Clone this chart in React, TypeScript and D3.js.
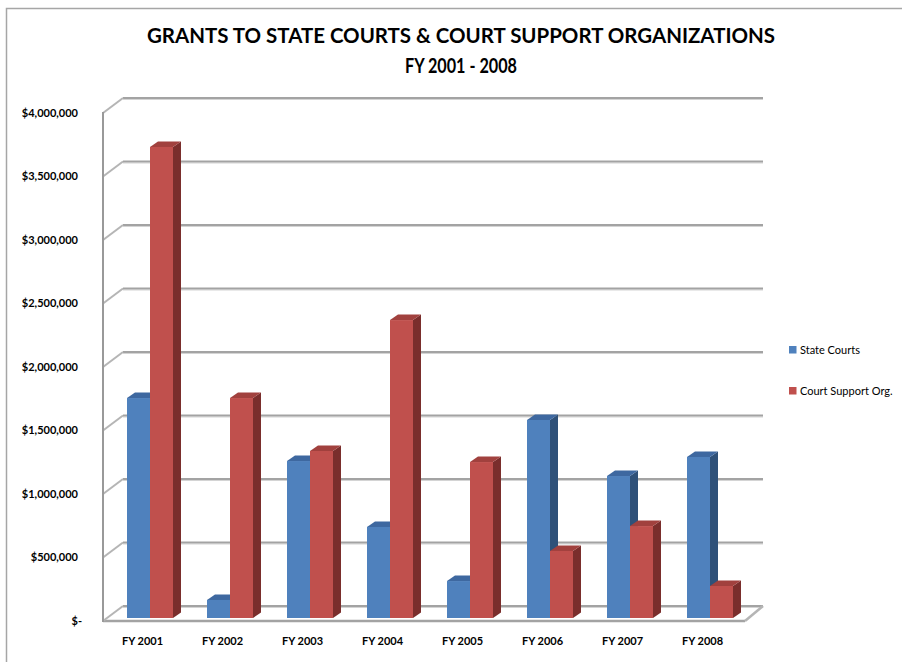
import React from "react";
import * as d3 from "d3";

const categories = ["FY 2001", "FY 2002", "FY 2003", "FY 2004", "FY 2005", "FY 2006", "FY 2007", "FY 2008"];
const stateCourts = [1732000, 142000, 1236000, 717000, 291000, 1559000, 1118000, 1268000];
const courtSupport = [3709000, 1732000, 1315000, 2346000, 1228000, 528000, 724000, 252000];
const yTicks = [0, 500000, 1000000, 1500000, 2000000, 2500000, 3000000, 3500000, 4000000];
const seriesNames = ["State Courts", "Court Support Org."];
const titleLines = ["GRANTS TO STATE COURTS & COURT SUPPORT ORGANIZATIONS", "FY 2001 - 2008"];

const W = 902;
const H = 662;
const FONT = "Lato, 'Liberation Sans', Arial, sans-serif";

const colors = [
  { front: "#4F81BD", top: "#3E68A0", side: "#2F5179" },
  { front: "#C0504D", top: "#A1413E", side: "#7A2E2C" },
];

// geometry
const frontX0 = 103, frontX1 = 743;
const depthX = 20, depthY = 15;
const barOffX = 7, barOffY = 3;
const barW = 23;
const barDX = 8, barDY = 5.5;

export default function App() {
  const x = d3.scaleBand<string>().domain(categories).range([frontX0, frontX1]).padding(0);
  const y = d3.scaleLinear().domain([0, 4000000]).range([621, 113]);
  const fmt = d3.format("$,");
  const label = (v: number) => (v === 0 ? "$-" : fmt(v));

  const series = [stateCourts, courtSupport];

  const bars: React.ReactNode[] = [];
  categories.forEach((c, i) => {
    const cx = (x(c) as number) + x.bandwidth() / 2 + barOffX;
    series.forEach((vals, s) => {
      const x0 = cx - barW + s * barW;
      const x1 = x0 + barW;
      const yb = y(0) - barOffY;
      const yt = y(vals[i]) - barOffY;
      const col = colors[s];
      bars.push(
        <g key={`${c}-${s}`}>
          <polygon
            points={`${x1},${yt} ${x1 + barDX},${yt - barDY} ${x1 + barDX},${yb - barDY} ${x1},${yb}`}
            fill={col.side}
          />
          <polygon
            points={`${x0},${yt} ${x0 + barDX},${yt - barDY} ${x1 + barDX},${yt - barDY} ${x1},${yt}`}
            fill={col.top}
          />
          <rect x={x0} y={yt} width={barW} height={yb - yt} fill={col.front} />
        </g>
      );
    });
  });

  return (
    <svg width={W} height={H} style={{ position: "absolute", left: 0, top: 0, background: "#fff" }}>
      <rect x={6.5} y={8.5} width={1200} height={1200} fill="#fff" stroke="#a6a6a6" strokeWidth={1.5} />

      {/* title */}
      <text x={461} y={43} textAnchor="middle" fontFamily={FONT} fontWeight="bold" fontSize={21}
        textLength={628} lengthAdjust="spacingAndGlyphs" fill="#000">
        {titleLines[0]}
      </text>
      <text x={461} y={73} textAnchor="middle" fontFamily={FONT} fontWeight="bold" fontSize={21}
        textLength={112} lengthAdjust="spacingAndGlyphs" fill="#000">
        {titleLines[1]}
      </text>

      {/* back wall gridlines */}
      {yTicks.map((t) => (
        <g key={`g${t}`}>
          <line x1={frontX0 + depthX} x2={frontX1 + depthX} y1={y(t) - depthY + 1.5} y2={y(t) - depthY + 1.5}
            stroke="#d4d4d4" strokeWidth={1.2} />
          <line x1={frontX0 + depthX} x2={frontX1 + depthX} y1={y(t) - depthY} y2={y(t) - depthY}
            stroke="#a3a3a3" strokeWidth={2} />
          {t > 0 && (
            <line x1={frontX0} y1={y(t)} x2={frontX0 + depthX} y2={y(t) - depthY} stroke="#b5b5b5" strokeWidth={2} />
          )}
        </g>
      ))}

      {/* floor */}
      <line x1={frontX0} y1={y(0)} x2={frontX1 + 2} y2={y(0)} stroke="#a3a3a3" strokeWidth={2.5} />
      <line x1={frontX1 + 2} y1={y(0)} x2={frontX1 + depthX} y2={y(0) - depthY} stroke="#b5b5b5" strokeWidth={2.5} />
      <line x1={frontX0} y1={y(0)} x2={frontX0 + depthX} y2={y(0) - depthY} stroke="#b5b5b5" strokeWidth={2} />

      {/* left wall axis */}
      <line x1={frontX0} x2={frontX0} y1={y(4000000) - 1} y2={y(0) + 1} stroke="#999" strokeWidth={2} />

      {bars}

      {/* y labels */}
      {yTicks.map((t) => (
        <text key={`l${t}`} x={t === 0 ? 82 : 78} y={y(t)} dy="0.35em" textAnchor="end"
          fontFamily={FONT} fontWeight="bold" fontSize={11} fill="#000">
          {label(t)}
        </text>
      ))}

      {/* x labels */}
      {categories.map((c) => (
        <text key={`x${c}`} x={(x(c) as number) + x.bandwidth() / 2 - 0.5} y={645} textAnchor="middle"
          fontFamily={FONT} fontWeight="bold" fontSize={11} fill="#000">
          {c}
        </text>
      ))}

      {/* legend */}
      {seriesNames.map((n, i) => (
        <g key={n} transform={`translate(789, ${346 + i * 41})`}>
          <rect x={0} y={0} width={7.5} height={7.5} fill={colors[i].front} />
          <text x={11} y={4} dy="0.35em" fontFamily={FONT} fontSize={11} fill="#000">{n}</text>
        </g>
      ))}
    </svg>
  );
}
